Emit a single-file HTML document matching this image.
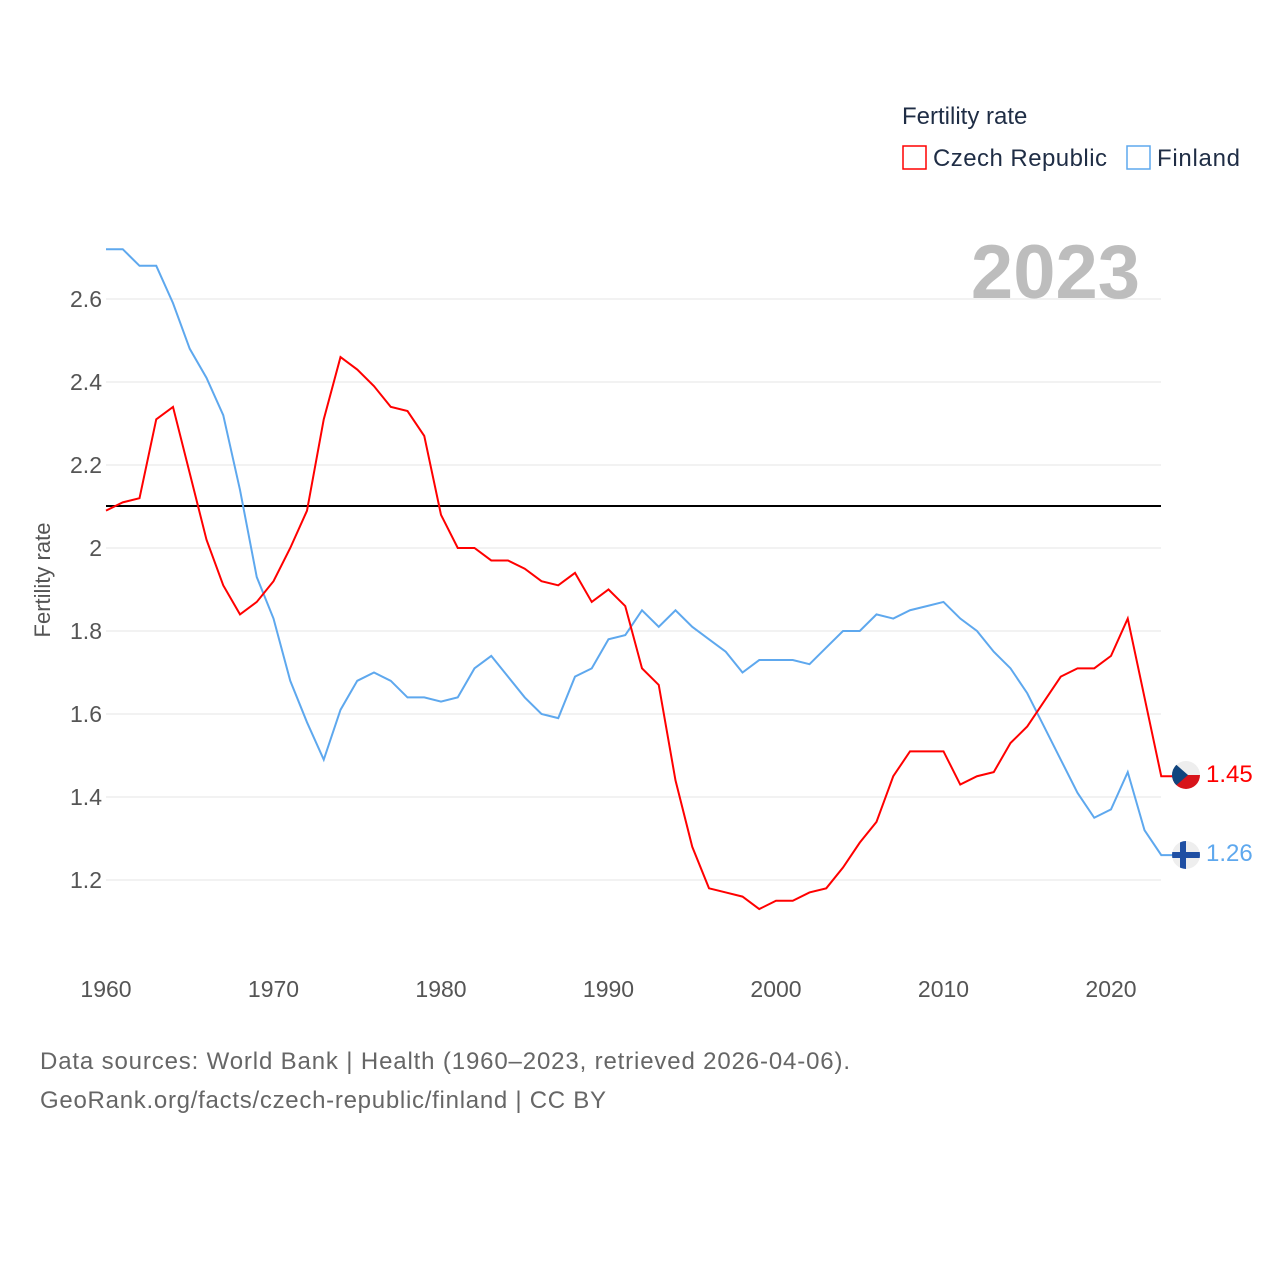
<!DOCTYPE html>
<html><head><meta charset="utf-8"><style>
body{margin:0;background:#fff;font-family:"Liberation Sans",sans-serif}
svg text{font-family:"Liberation Sans",sans-serif}
</style></head><body>
<svg id="chart" width="1280" height="1280" xmlns="http://www.w3.org/2000/svg">
<g id="grid"></g>
<g id="xticks"></g>
<text x="1140" y="298" text-anchor="end" font-size="76" font-weight="bold" fill="#bdbdbd">2023</text>
<line x1="106" x2="1161" y1="506" y2="506" stroke="#000" stroke-width="2"/>
<g id="series"></g>
<text transform="translate(50,580) rotate(-90)" text-anchor="middle" font-size="22" fill="#555">Fertility rate</text>
<text x="902" y="124" font-size="24" fill="#1f2d45">Fertility rate</text>
<g><rect x="903" y="146" width="23" height="23" fill="none" stroke="#f00" stroke-width="1.5"/><text x="933" y="166" font-size="24" fill="#1f2d45" textLength="174">Czech Republic</text></g>
<g><rect x="1127" y="146" width="23" height="23" fill="none" stroke="#5ea8ee" stroke-width="1.5"/><text x="1157" y="166" font-size="24" fill="#1f2d45" textLength="83">Finland</text></g>
<g>
<clipPath id="cc"><circle cx="1186" cy="775" r="14"/></clipPath>
<g clip-path="url(#cc)"><rect x="1172" y="761" width="28" height="14" fill="#eee"/><rect x="1172" y="775" width="28" height="14" fill="#d7141a"/><polygon points="1172,761 1188,775 1172,789" fill="#11457e"/></g></g>
<g>
<clipPath id="cf"><circle cx="1186" cy="855" r="14"/></clipPath>
<g clip-path="url(#cf)"><rect x="1172" y="841" width="28" height="28" fill="#eee"/><rect x="1172" y="852" width="28" height="6" fill="#1f4fa3"/><rect x="1180" y="841" width="6" height="28" fill="#1f4fa3"/></g></g>
<text x="1206" y="782" font-size="24" fill="#f00">1.45</text>
<text x="1206" y="861" font-size="24" fill="#5ea8ee">1.26</text>
<text x="40" y="1069" font-size="24" fill="#666" textLength="810">Data sources: World Bank | Health (1960–2023, retrieved 2026-04-06).</text>
<text x="40" y="1108" font-size="24" fill="#666" textLength="566">GeoRank.org/facts/czech-republic/finland | CC BY</text>
</svg>
<script>
const years=[];for(let y=1960;y<=2023;y++)years.push(y);
const czech=[2.09,2.11,2.12,2.31,2.34,2.18,2.02,1.91,1.84,1.87,1.92,2.00,2.09,2.31,2.46,2.43,2.39,2.34,2.33,2.27,2.08,2.00,2.00,1.97,1.97,1.95,1.92,1.91,1.94,1.87,1.90,1.86,1.71,1.67,1.44,1.28,1.18,1.17,1.16,1.13,1.15,1.15,1.17,1.18,1.23,1.29,1.34,1.45,1.51,1.51,1.51,1.43,1.45,1.46,1.53,1.57,1.63,1.69,1.71,1.71,1.74,1.83,1.64,1.45];
const finland=[2.72,2.72,2.68,2.68,2.59,2.48,2.41,2.32,2.14,1.93,1.83,1.68,1.58,1.49,1.61,1.68,1.70,1.68,1.64,1.64,1.63,1.64,1.71,1.74,1.69,1.64,1.60,1.59,1.69,1.71,1.78,1.79,1.85,1.81,1.85,1.81,1.78,1.75,1.70,1.73,1.73,1.73,1.72,1.76,1.80,1.80,1.84,1.83,1.85,1.86,1.87,1.83,1.80,1.75,1.71,1.65,1.57,1.49,1.41,1.35,1.37,1.46,1.32,1.26];
const yTicks=[1.2,1.4,1.6,1.8,2,2.2,2.4,2.6];
const xTicks=[1960,1970,1980,1990,2000,2010,2020];
const X=y=>106+(y-1960)*16.75;
const Y=v=>299+(2.6-v)*415;
const NS="http://www.w3.org/2000/svg";
const grid=document.getElementById('grid');
yTicks.forEach(t=>{
const l=document.createElementNS(NS,'line');
l.setAttribute('x1',106);l.setAttribute('x2',1161);l.setAttribute('y1',Y(t));l.setAttribute('y2',Y(t));l.setAttribute('stroke','#e6e6e6');


grid.appendChild(l);
const tx=document.createElementNS(NS,'text');
tx.setAttribute('x',102);tx.setAttribute('y',Y(t)+8);tx.setAttribute('text-anchor','end');tx.setAttribute('font-size','23');tx.setAttribute('fill','#555');
tx.textContent=String(t);


grid.appendChild(tx);});
const xg=document.getElementById('xticks');
xTicks.forEach(t=>{
const tx=document.createElementNS(NS,'text');
tx.setAttribute('x',X(t));tx.setAttribute('y',997);tx.setAttribute('text-anchor','middle');tx.setAttribute('font-size','23');tx.setAttribute('fill','#555');
tx.textContent=t;


xg.appendChild(tx);});
const sg=document.getElementById('series');
[[finland,'#5ea8ee','finland-line'],[czech,'#f00','czech-line']].forEach(([d,c,n])=>{
let pts=d.map((v,i)=>X(years[i])+','+Y(v));
pts.push((X(2023)+11)+','+Y(d[d.length-1]));
const p=document.createElementNS(NS,'polyline');
p.setAttribute('points',pts.join(' '));p.setAttribute('fill','none');p.setAttribute('stroke',c);p.setAttribute('stroke-width','2');


sg.appendChild(p);});
</script>
</body></html>
